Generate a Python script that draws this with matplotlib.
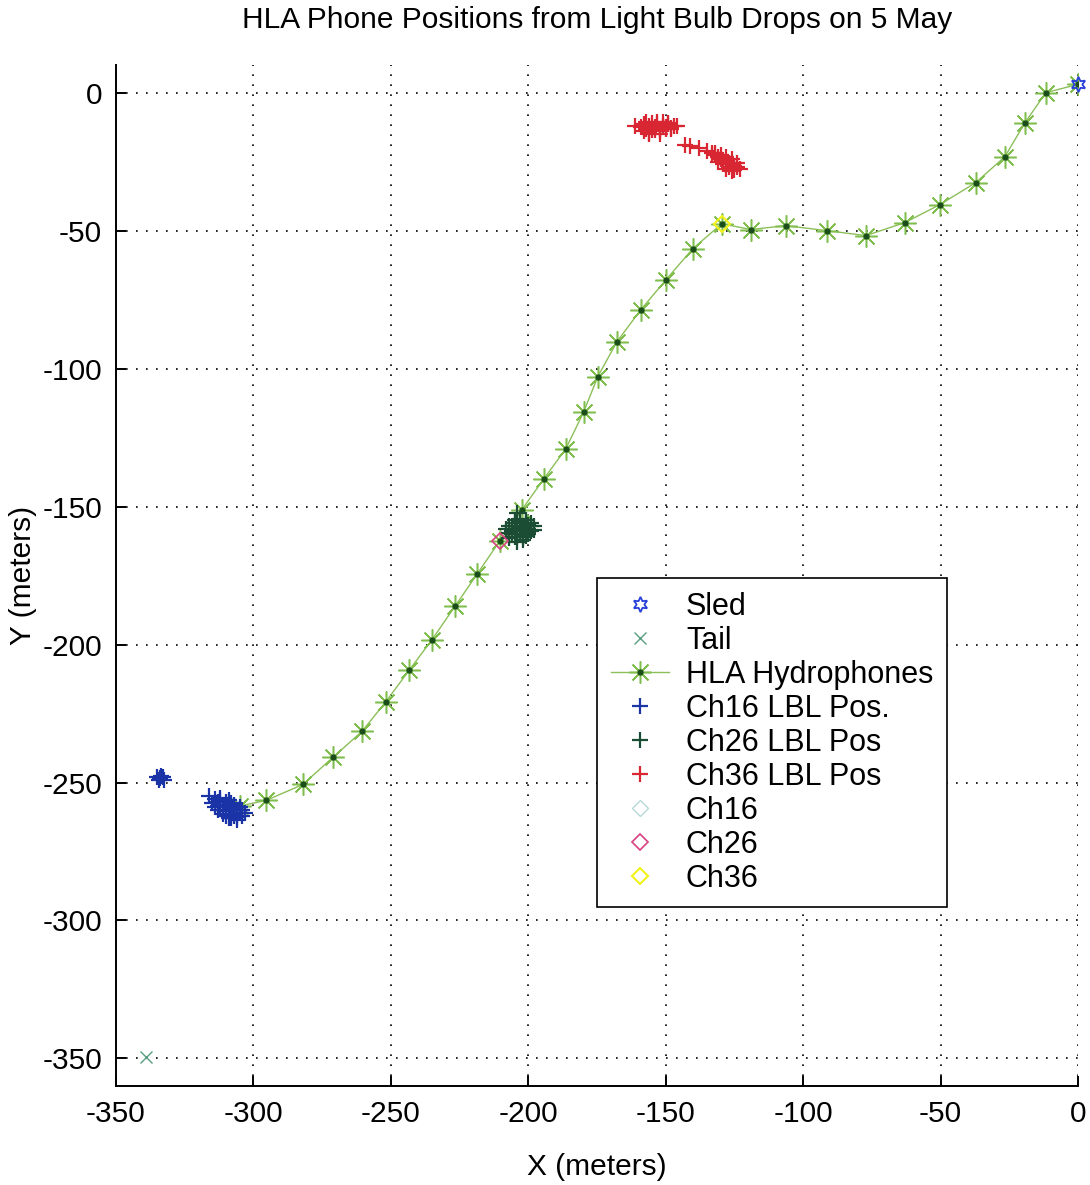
import numpy as np
import matplotlib.pyplot as plt
from matplotlib.legend_handler import HandlerTuple

plt.rcParams['font.family'] = ['Liberation Sans', 'DejaVu Sans']
plt.rcParams['axes.unicode_minus'] = False

# ==============================
# Data (meters)
# ==============================
sled_x = [0.0]
sled_y = [3.0]

tail_x = [-339.0]
tail_y = [-349.3]

hla_x = [0.0, -11.7, -19.3, -26.6, -37.2, -50.3, -63.0, -77.2, -91.4, -106.3,
         -119.0, -129.6, -140.1, -149.9, -159.0, -167.7, -174.7, -179.8, -186.3,
         -194.3, -202.3, -210.3, -218.7, -226.7, -235.0, -243.4, -251.8, -260.5,
         -271.1, -282.0, -295.4, -305.0]
hla_y = [3.0, 0.0, -10.9, -23.2, -32.6, -40.6, -47.1, -51.8, -50.0, -48.2,
         -49.6, -47.5, -56.5, -67.8, -78.6, -90.2, -102.9, -115.6, -129.0,
         -139.9, -151.1, -162.3, -174.6, -186.2, -198.2, -209.4, -220.7, -231.5,
         -240.9, -250.7, -256.5, -258.5]

ch16_lbl_x = [-316, -314, -313, -312, -311, -310, -309, -308, -307, -306, -305, -304,
              -315, -313, -311, -310, -308, -307, -306, -304,
              -312, -310, -309, -307, -305, -314, -311, -308,
              -313, -310, -309, -306, -312, -308, -305, -303,
              -335, -334, -333, -332.5, -334.5, -333.5]
ch16_lbl_y = [-255, -256, -257, -256.5, -258, -258, -259, -259.5, -260, -261, -261, -262,
              -257.5, -258.5, -260, -260.5, -261.5, -262, -262.5, -260,
              -255.5, -257, -256.5, -258, -259, -259, -261.5, -263,
              -260, -262, -263, -263.5, -258, -257.5, -260, -261,
              -248, -248.5, -248, -249, -249, -247.5]

ch26_lbl_x = [-208, -207, -206, -205, -204, -203, -202, -201, -200, -199, -198,
              -206, -204, -203, -202, -200, -205, -203, -201, -199,
              -207, -204, -202, -200, -204, -203,
              -206, -205, -203, -201, -200, -198, -207, -205, -202, -199]
ch26_lbl_y = [-158, -157, -159, -156, -158, -157, -159, -156, -158, -157, -158.5,
              -160, -161, -160, -162, -160, -155, -154.5, -155, -156,
              -161.5, -163, -161, -159.5, -152.5, -157.5,
              -157, -161, -155.5, -160.5, -156.5, -157, -159.5, -158.5, -157.5, -159]

ch36_lbl_x = [-161, -159, -158, -157, -156, -155, -154, -153, -152, -151, -150, -149,
              -148, -147, -146, -158, -156, -154, -152, -150, -148,
              -157, -155, -153, -151, -149, -156, -152,
              -143, -141, -138, -135, -132,
              -133, -132, -131, -130, -129, -128, -127, -126, -125, -124, -123,
              -131, -129, -127, -125, -130, -128, -126, -128, -126, -124]
ch36_lbl_y = [-12, -12.5, -11.5, -13, -12, -13.5, -12.5, -11.5, -13, -12, -12.5, -11.5,
              -13, -12, -12, -14, -14.5, -13.5, -14, -13, -12.8,
              -10.5, -11, -10.5, -10.8, -11, -15, -15,
              -19, -19.5, -20, -21, -22,
              -22, -22.5, -23.5, -24, -24.5, -25, -25.5, -26, -26.5, -27, -27.5,
              -25, -26, -27, -28, -22.5, -23.5, -24, -27.5, -28.5, -25.5]

ch16_x, ch16_y = [-307.0], [-258.5]
ch26_x, ch26_y = [-210.3], [-162.3]
ch36_x, ch36_y = [-129.6], [-47.5]

x_ticks = [-350, -300, -250, -200, -150, -100, -50, 0]
y_ticks = [-350, -300, -250, -200, -150, -100, -50, 0]

# ==============================
# Figure
# ==============================
fig = plt.figure(figsize=(10.9, 11.85), dpi=100)
ax = fig.add_axes([0.1064, 0.0835, 0.8826, 0.8616])

FS = 21.5

h_sled, = ax.plot(sled_x, sled_y, linestyle='none', marker=(6, 1, 0), ms=11,
                  mfc='none', mec=(0.15, 0.25, 0.85), mew=1.3, clip_on=False, zorder=6)
h_tail, = ax.plot(tail_x, tail_y, linestyle='none', marker='x', ms=9,
                  color=(0.35, 0.62, 0.5), mew=1.0)
h_hla, = ax.plot(hla_x, hla_y, color=(0.55, 0.75, 0.35), lw=1.0,
                 marker=(8, 2, 0), ms=16, mec=(0.5, 0.75, 0.3), mew=1.1)
h_hla_dot, = ax.plot(hla_x, hla_y, linestyle='none', marker='o', ms=3.5,
                     color=(0.1, 0.3, 0.1))
h16, = ax.plot(ch16_lbl_x, ch16_lbl_y, linestyle='none', marker='+', ms=12,
               mew=1.6, color=(0.1, 0.2, 0.65))
h26, = ax.plot(ch26_lbl_x, ch26_lbl_y, linestyle='none', marker='+', ms=12,
               mew=1.6, color=(0.1, 0.3, 0.2))
h36, = ax.plot(ch36_lbl_x, ch36_lbl_y, linestyle='none', marker='+', ms=12,
               mew=1.6, color=(0.85, 0.15, 0.2))
d16, = ax.plot(ch16_x, ch16_y, linestyle='none', marker='D', ms=8, mfc='none',
               mec=(0.72, 0.85, 0.85), mew=1.0, zorder=1)
d26, = ax.plot(ch26_x, ch26_y, linestyle='none', marker='D', ms=8, mfc='none',
               mec=(0.85, 0.25, 0.5), mew=1.2)
d36, = ax.plot(ch36_x, ch36_y, linestyle='none', marker='D', ms=8, mfc='none',
               mec=(0.95, 0.95, 0.1), mew=1.5)

# ==============================
# Axes styling
# ==============================
ax.set_xlim(-350, 0)
ax.set_ylim(-360, 10)
ax.set_xticks(x_ticks)
ax.set_yticks(y_ticks)
ax.tick_params(direction='in', length=7, width=1.4, labelsize=FS, pad=10,
               top=False, right=False)
for side in ['top', 'right']:
    ax.spines[side].set_visible(False)
for side in ['left', 'bottom']:
    ax.spines[side].set_linewidth(1.4)
ax.grid(True, color='black', linestyle=(0, (1, 5)), linewidth=1.2)
ax.set_axisbelow(True)

ax.set_title("HLA Phone Positions from Light Bulb Drops on 5 May",
             fontsize=FS, pad=27)
ax.set_xlabel("X (meters)", fontsize=FS, labelpad=18)
ax.set_ylabel("Y (meters)", fontsize=FS, labelpad=4)

handles = [h_sled, h_tail, (h_hla, h_hla_dot), h16, h26, h36, d16, d26, d36]
labels = ["Sled", "Tail", "HLA Hydrophones", "Ch16 LBL Pos.", "Ch26 LBL Pos",
          "Ch36 LBL Pos", "Ch16", "Ch26", "Ch36"]
leg = ax.legend(handles, labels, loc='upper left',
                bbox_to_anchor=(597 / 1090, 1 - 578 / 1185),
                bbox_transform=fig.transFigure, borderaxespad=0,
                fontsize=22, fancybox=False, framealpha=1, edgecolor='black',
                handlelength=1.9, handletextpad=0.56, labelspacing=0.13,
                borderpad=0.45, handler_map={tuple: HandlerTuple(ndivide=1)})
leg.get_frame().set_linewidth(1.2)

fig.savefig("out.png", dpi=100)
